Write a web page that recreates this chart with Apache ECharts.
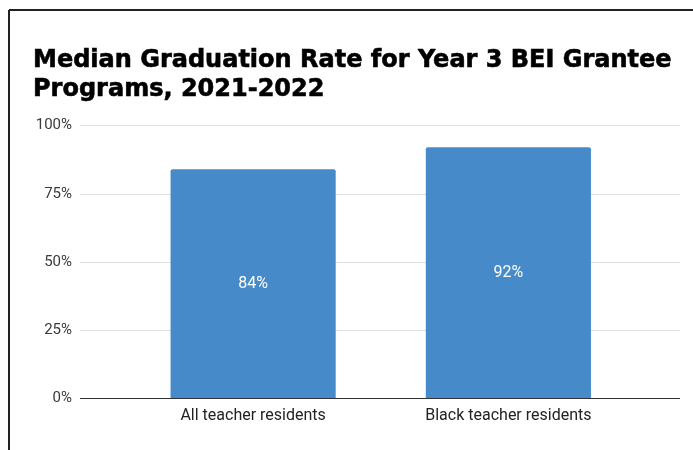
<!DOCTYPE html>
<html>
<head>
<meta charset="utf-8">
<script src="https://cdn.jsdelivr.net/npm/echarts@6/dist/echarts.min.js"></script>
<style>
  html, body { margin: 0; padding: 0; background: #fff; }
  #chart { width: 693px; height: 450px; }
</style>
</head>
<body>
<div id="chart"></div>
<script>
// Median graduation rate (%) by resident group
const categories = ['All teacher residents', 'Black teacher residents'];
const graduationRate = [84, 92];
const yTicks = [0, 25, 50, 75, 100];

const chart = echarts.init(document.getElementById('chart'), null, { renderer: 'canvas' });

const yMin = yTicks[0];
const yMax = yTicks[yTicks.length - 1];
const yStep = yTicks[1] - yTicks[0];

chart.setOption({
  backgroundColor: '#fff',
  animation: false,
  title: {
    text: 'Median Graduation Rate for Year 3 BEI Grantee\nPrograms, 2021-2022',
    left: 28,
    top: 41.5,
    textStyle: {
      fontFamily: 'DejaVu Sans, sans-serif',
      fontWeight: 'bold',
      fontSize: 24,
      lineHeight: 29,
      color: '#000',
      textBorderColor: '#000',
      textBorderWidth: 0.6
    }
  },
  graphic: [
    { type: 'line', shape: { x1: 9, y1: 10, x2: 693, y2: 10 }, style: { stroke: '#222', lineWidth: 2 } },
    { type: 'line', shape: { x1: 9, y1: 10, x2: 9, y2: 450 }, style: { stroke: '#222', lineWidth: 2 } }
  ],
  grid: [
    // wide grid carrying the gridlines and percent labels
    { left: 80, right: 13, top: 125.5, bottom: 51.5 },
    // inner grid where the bars sit
    { left: 125.5, right: 57, top: 125.5, bottom: 51.5 }
  ],
  xAxis: [
    {
      gridIndex: 0, type: 'value', min: 0, max: 1,
      axisLine: { show: false }, axisTick: { show: false },
      axisLabel: { show: false }, splitLine: { show: false }
    },
    {
      gridIndex: 1, type: 'category', data: categories,
      axisLine: { show: false }, axisTick: { show: false },
      axisLabel: {
        margin: 9,
        fontFamily: 'Roboto, sans-serif',
        fontSize: 16,
        color: '#222'
      }
    }
  ],
  yAxis: [
    {
      gridIndex: 0, type: 'value', min: yMin, max: yMax, interval: yStep,
      axisLine: { show: false }, axisTick: { show: false },
      axisLabel: {
        margin: 8,
        formatter: '{value}%',
        fontFamily: 'Roboto, sans-serif',
        fontSize: 15,
        color: '#3a3a3a'
      },
      splitLine: { lineStyle: { color: '#e0e0e0', width: 1 } }
    },
    {
      gridIndex: 1, type: 'value', min: yMin, max: yMax, interval: yStep,
      axisLine: { show: false }, axisTick: { show: false },
      axisLabel: { show: false }, splitLine: { show: false }
    }
  ],
  series: [
    {
      type: 'bar',
      xAxisIndex: 1,
      yAxisIndex: 1,
      data: graduationRate,
      barWidth: '64.7%',
      itemStyle: { color: '#468ac9', borderRadius: [2, 2, 0, 0] },
      label: {
        show: true,
        position: 'inside',
        formatter: '{c}%',
        fontFamily: 'Roboto, sans-serif',
        fontSize: 16,
        color: '#fff'
      },
      z: 3
    },
    {
      // baseline drawn across the wide grid
      type: 'line',
      xAxisIndex: 0,
      yAxisIndex: 0,
      data: [[0, yMin], [1, yMin]],
      symbol: 'none',
      silent: true,
      lineStyle: { color: '#333', width: 1 },
      z: 4
    }
  ]
});
</script>
</body>
</html>
